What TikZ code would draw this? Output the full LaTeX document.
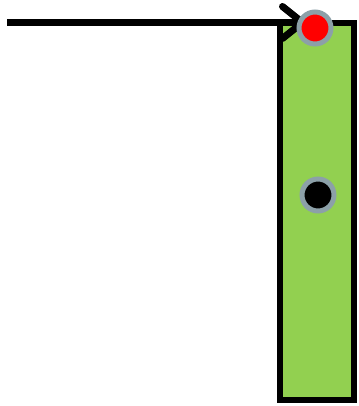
\documentclass[tikz,border=0pt]{standalone}
\usepackage{xcolor}
\usepackage{tikz}
\usetikzlibrary{arrows.meta}
\definecolor{bargreen}{RGB}{146,208,80}
\definecolor{pinring}{RGB}{140,160,168}
\pgfdeclarelayer{front}
\pgfsetlayers{main,front}

\begin{document}
\begin{tikzpicture}[x=1pt, y=-1pt]
                \tikzstyle{bar} = [rectangle, minimum width=74pt, minimum height=377pt, inner sep=0pt, draw=black, line width=6.5pt, fill=bargreen]
                \tikzstyle{pin} = [circle, minimum size=32pt, inner sep=0pt, draw=pinring, line width=5pt]
                \tikzstyle{arrow} = [line width=7pt,-{Straight Barb[length=20pt,width=32pt,round]}]
                \useasboundingbox (0,0) rectangle (358,406);

                \node (bar) [bar] at (317,211.5) {};
                \begin{pgfonlayer}{front}
                \node (redpin) [pin, fill=red] at (315,28) {};
                \node (blackpin) [pin, fill=black] at (318,195) {};
                \end{pgfonlayer}
                \coordinate (start) at (7,22.5);

                \draw [arrow, shorten >=9pt] (start) -- (start -| redpin.center);
\end{tikzpicture}
\end{document}
